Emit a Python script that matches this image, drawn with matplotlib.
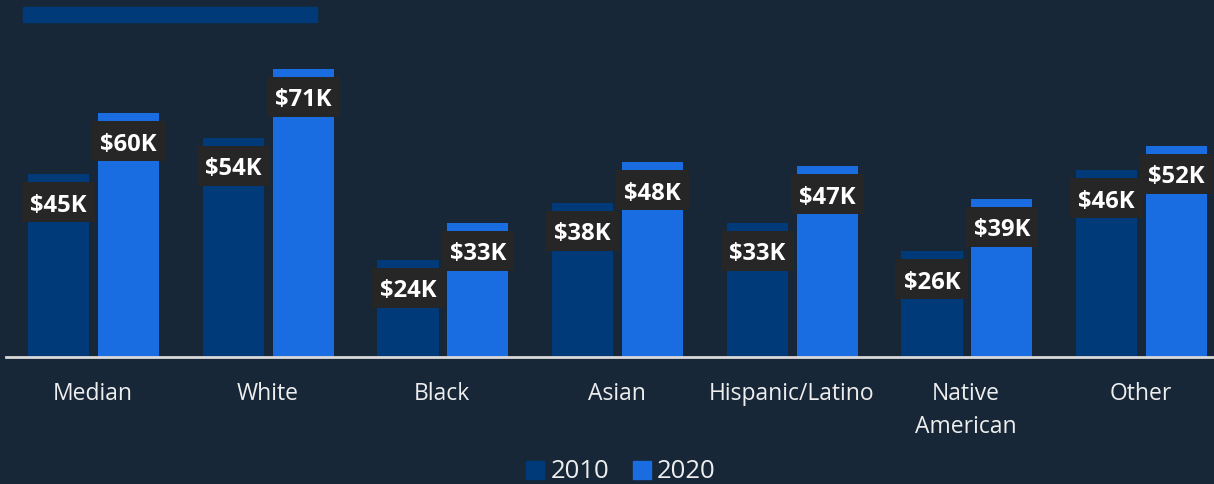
import matplotlib
matplotlib.use("Agg")
import matplotlib.pyplot as plt
import matplotlib.patches as mpatches
import matplotlib.transforms as mtransforms
import numpy as np

plt.rcParams['font.family'] = ['Open Sans', 'DejaVu Sans']

categories = ["Median", "White", "Black", "Asian", "Hispanic/Latino", "Native\nAmerican", "Other"]
income_2010 = [45, 54, 24, 38, 33, 26, 46]
income_2020 = [60, 71, 33, 48, 47, 39, 52]
series_names = ["2010", "2020"]

BG = "#172738"
C2010 = "#003a78"
C2020 = "#196de0"
LABEL_BG = "#262626"

fig = plt.figure(figsize=(12.14, 4.84), dpi=100, facecolor=BG)
ax = fig.add_axes([6 / 1214, (484 - 357) / 484, 1 - 6 / 1214, (357 - 30) / 484])
ax.set_facecolor(BG)

x = np.arange(len(categories))
w = 0.35
off = 0.2
b1 = ax.bar(x - off + 0.005, income_2010, w, color=C2010, zorder=2)
b2 = ax.bar(x + off + 0.005, income_2020, w, color=C2020, zorder=2)

# value labels: fixed-size dark box hanging just below each bar top
BOX_W, BOX_H, BOX_DROP = 0.73, 0.40, 0.28  # inches
for bars, vals in ((b1, income_2010), (b2, income_2020)):
    for bar, v in zip(bars, vals):
        cx = bar.get_x() + bar.get_width() / 2
        tr = fig.dpi_scale_trans + mtransforms.ScaledTranslation(cx, v, ax.transData)
        ax.add_patch(mpatches.Rectangle((-BOX_W / 2, -BOX_DROP - BOX_H / 2), BOX_W, BOX_H,
                                        transform=tr, fc=LABEL_BG, ec="none", zorder=3,
                                        clip_on=False))
        ax.annotate(f"${v}K", (cx, v), xytext=(0, -(BOX_DROP * 72 + 6.8)),
                    textcoords="offset points", ha="center", va="baseline",
                    color="white", fontsize=17.2, fontweight="bold", zorder=4)

ax.set_xlim(-0.497, 6.42)
ax.set_ylim(0, 327 / 4.06)
for s in ("top", "right", "left"):
    ax.spines[s].set_visible(False)
ax.spines["bottom"].set_color("#d9d9d9")
ax.spines["bottom"].set_linewidth(2)
ax.spines["bottom"].set_zorder(5)
ax.set_yticks([])
ax.set_xticks(x)
ax.set_xticklabels(categories, color="#eeeeee", fontsize=16.5, linespacing=1.5)
ax.tick_params(axis="x", length=0, pad=18)

handles = [mpatches.Patch(color=C2010, label=series_names[0]),
           mpatches.Patch(color=C2020, label=series_names[1])]
leg = fig.legend(handles=handles, loc="center", bbox_to_anchor=(621 / 1214, 1 - 472 / 484),
                 ncol=2, frameon=False, fontsize=18.5, handlelength=0.7, handleheight=0.7,
                 handletextpad=0.25, columnspacing=0.9, labelcolor="#eeeeee")

# title bar placeholder
fig.patches.append(mpatches.Rectangle((23 / 1214, 1 - 22 / 484), 294 / 1214, 15 / 484,
                                      transform=fig.transFigure, color=C2010, zorder=5))

fig.savefig("out.png", dpi=100, facecolor=BG)
